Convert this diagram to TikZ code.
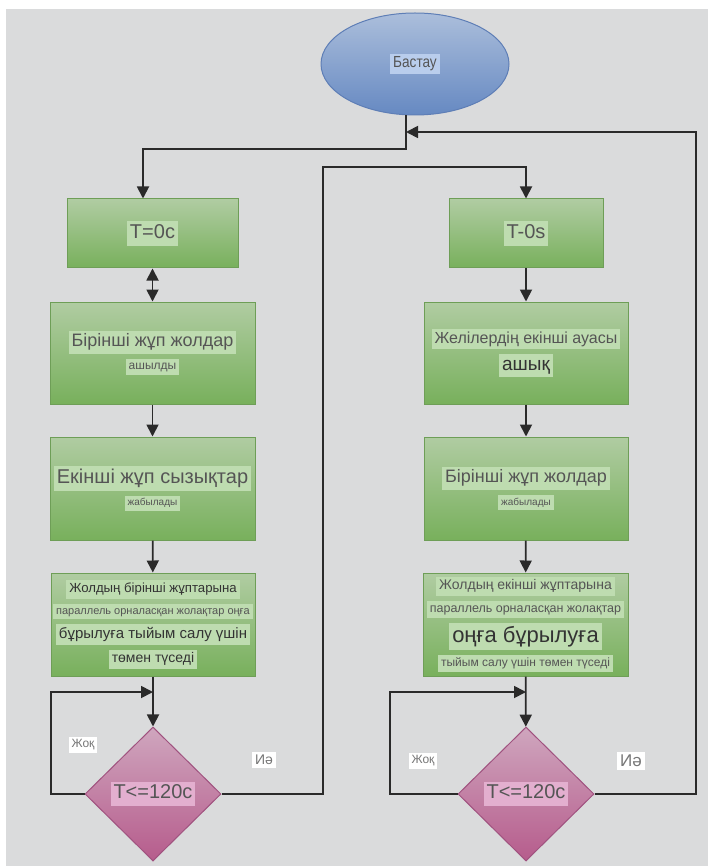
\documentclass[tikz,border=0pt]{standalone}
\usepackage{fontspec}
\setmainfont{Liberation Sans}
\newfontfamily\narrowfont[FakeStretch=0.85]{Liberation Sans}
\usetikzlibrary{shapes.geometric,arrows.meta}

\definecolor{sheet}{HTML}{DADBDC}
\definecolor{boxtop}{HTML}{B0CCA2}
\definecolor{boxbot}{HTML}{78B05C}
\definecolor{boxline}{HTML}{6E9E57}
\definecolor{boxlbl}{HTML}{BEDCB0}
\definecolor{dtop}{HTML}{CFA6BE}
\definecolor{dbot}{HTML}{B65C8C}
\definecolor{dline}{HTML}{A0527F}
\definecolor{dlbl}{HTML}{E3AFCF}
\definecolor{etop}{HTML}{ABBEDB}
\definecolor{ebot}{HTML}{6689C2}
\definecolor{eline}{HTML}{5E7EB6}
\definecolor{elbl}{HTML}{B9CDEC}
\definecolor{txt}{HTML}{555555}
\definecolor{txtdark}{HTML}{333333}
\definecolor{wire}{HTML}{2A2A2A}

\setlength{\fboxsep}{3pt}
\newcommand{\lbl}[3]{\colorbox{#1}{\fontsize{#2}{#2}\selectfont\vphantom{Жр}#3}}

\tikzset{
    stepbox/.style={
        draw=boxline, line width=1pt,
        top color=boxtop, bottom color=boxbot,
        align=center, inner sep=0pt, text=txt,
        font=\fontsize{4}{4}\selectfont,
        execute at begin node={\lineskip=5pt}
    },
    check/.style={
        shape=diamond, draw=dline, line width=1pt,
        top color=dtop, bottom color=dbot,
        minimum width=136pt, minimum height=134pt,
        inner sep=0pt, text=txt
    },
    answer/.style={
        fill=white, text=txt!80, inner sep=3pt
    },
    wire/.style={
        draw=wire, line width=1.8pt,
        -{Triangle[length=12pt,width=12pt]}
    }
}

\begin{document}
\begin{tikzpicture}[x=1pt, y=-1pt]

% Fon
\useasboundingbox (0,0) rectangle (708,866);
\fill[white] (0,0) rectangle (708,866);
\fill[sheet] (6,9) rectangle (708,866);

% Bastau
\node[
    ellipse,
    draw=eline, line width=1pt,
    top color=etop, bottom color=ebot,
    minimum width=188pt, minimum height=102pt,
    inner sep=0pt, text=txt
] (start) at (415,64) {\lbl{elbl}{16}{\narrowfont Бастау}};

% Sol jaq
\node[stepbox, minimum width=171pt, minimum height=69pt]
    (l1) at (152.5,233.5) {\lbl{boxlbl}{20}{T=0c}};
\node[stepbox, minimum width=205pt, minimum height=102pt]
    (l2) at (152.5,353) {\lbl{boxlbl}{18}{Бірінші жұп жолдар}\\
    \lbl{boxlbl}{12}{ашылды}};
\node[stepbox, minimum width=205pt, minimum height=103pt]
    (l3) at (152.5,488.5) {\lbl{boxlbl}{20}{Екінші жұп сызықтар}\\
    \lbl{boxlbl}{10}{жабылады}};
\node[stepbox, minimum width=204pt, minimum height=103pt]
    (l4) at (153,624.5) {\lbl{boxlbl}{13.2}{\color{txtdark}Жолдың бірінші жұптарына}\\
    \lbl{boxlbl}{11}{параллель орналасқан жолақтар оңға}\\
    \lbl{boxlbl}{15}{\color{txtdark}бұрылуға тыйым салу үшін}\\
    \lbl{boxlbl}{14}{\color{txtdark}төмен түседі}};
\node[check] (ld) at (153,794) {\lbl{dlbl}{20}{T<=120c}};

% Ong jaq
\node[stepbox, minimum width=154pt, minimum height=69pt]
    (r1) at (526,233.5) {\lbl{boxlbl}{20}{T-0s}};
\node[stepbox, minimum width=204pt, minimum height=102pt]
    (r2) at (526,353) {\lbl{boxlbl}{16}{Желілердің екінші ауасы}\\
    \lbl{boxlbl}{19}{\color{txtdark}ашық}};
\node[stepbox, minimum width=204pt, minimum height=103pt]
    (r3) at (526,488.5) {\lbl{boxlbl}{18}{Бірінші жұп жолдар}\\
    \lbl{boxlbl}{10}{жабылады}};
\node[stepbox, minimum width=205pt, minimum height=103pt]
    (r4) at (525.5,624.5) {\lbl{boxlbl}{14}{Жолдың екінші жұптарына}\\
    \lbl{boxlbl}{12.5}{параллель орналасқан жолақтар}\\
    \lbl{boxlbl}{22}{\color{txtdark}оңға бұрылуға}\\
    \lbl{boxlbl}{12}{тыйым салу үшін төмен түседі}};
\node[check] (rd) at (526,794) {\lbl{dlbl}{20}{T<=120c}};

% Jauaptar
\node[answer] (noL) at (83,745) {\fontsize{12}{12}\selectfont Жоқ};
\node[answer] (yesLt) at (264,760) {\fontsize{14}{14}\selectfont Иә};
\node[answer] (noR) at (423,761) {\fontsize{12}{12}\selectfont Жоқ};
\node[answer] (yesRt) at (631,761) {\fontsize{17}{17}\selectfont Иә};

% Buryshtar
\coordinate (split) at (406,149);
\coordinate (loopL) at (51,692);
\coordinate (loopR) at (390,692);
\coordinate (upL) at (323,167);
\coordinate (upR) at (696,132);

% Baylanystar
\draw[wire] ([xshift=-9pt]start.south) -- (split) -| ([xshift=-9.5pt]l1.north);
\draw[wire, {Triangle[length=12pt,width=12pt]}-{Triangle[length=12pt,width=12pt]}]
    (l1.south) -- (l2.north);
\draw[wire] (l2) -- (l3);
\draw[wire] (l3) -- (l4);
\draw[wire] (l4) -- (ld);
\draw[wire] (ld.west) -| (loopL) -- (loopL -| ld.north);
\draw[wire] (ld.east) -| (upL) -| (r1.north);

\draw[wire] (r1) -- (r2);
\draw[wire] (r2) -- (r3);
\draw[wire] (r3) -- (r4);
\draw[wire] (r4) -- (rd);
\draw[wire] (rd.west) -| (loopR) -- (loopR -| rd.north);
\draw[wire] (rd.east) -| (upR) -- (upR -| split);

\end{tikzpicture}
\end{document}
